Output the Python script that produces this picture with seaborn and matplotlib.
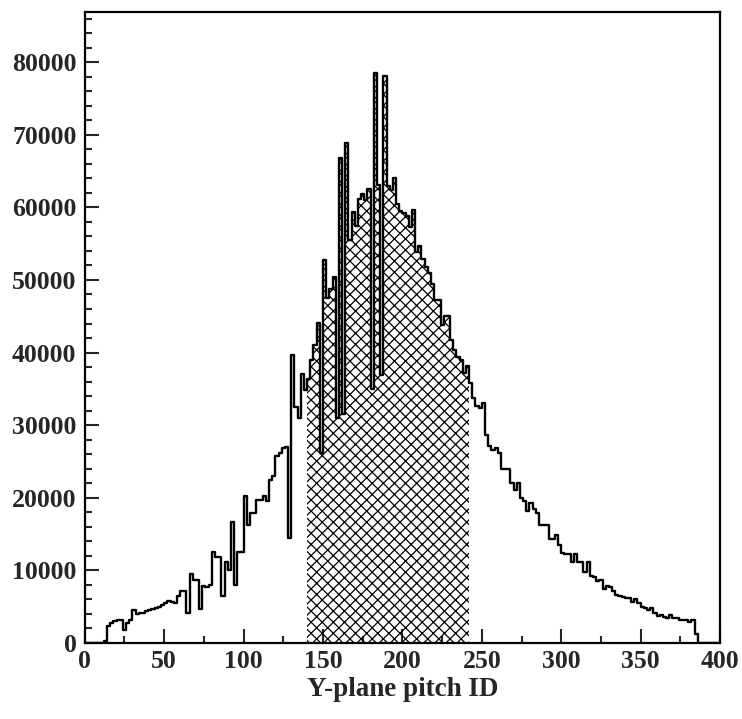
import numpy as np
import pandas as pd
import matplotlib
matplotlib.use("Agg")
import matplotlib.pyplot as plt
from matplotlib.ticker import MultipleLocator
import seaborn as sns

# 200 bins of width 2, pitch ID 0..400
bin_edges = list(range(0, 402, 2))

# counts per bin, in thousands
counts_k = [
    0, 0, 0, 0, 0, 0, 0.3, 2.4, 2.8, 3.0,
    3.1, 3.1, 1.8, 2.7, 3.1, 4.5, 4.0, 4.1, 4.2, 4.4,
    4.5, 4.7, 4.8, 4.9, 5.3, 5.5, 5.8, 5.7, 5.5, 6.5,
    7.2, 7.2, 4.2, 9.5, 8.7, 8.7, 4.7, 7.8, 7.7, 8.0,
    12.5, 11.9, 11.8, 6.5, 11.1, 10.0, 16.6, 8.0, 12.6, 12.6,
    20.2, 16.3, 17.9, 17.9, 19.7, 19.7, 20.2, 19.5, 22.4, 23.0,
    25.7, 26.1, 26.8, 27.0, 14.4, 39.7, 32.5, 31.0, 37.1, 34.9,
    36.3, 39.0, 41.0, 44.1, 26.1, 52.8, 47.5, 48.8, 50.4, 31.0,
    66.8, 31.6, 68.9, 55.5, 59.3, 57.4, 61.2, 61.9, 61.0, 62.5,
    35.0, 78.5, 63.1, 36.9, 78.1, 62.9, 62.4, 64.1, 60.5, 59.5,
    59.2, 58.8, 57.3, 59.6, 53.9, 54.7, 52.9, 51.8, 50.9, 49.5,
    47.2, 47.2, 43.8, 45.0, 45.0, 41.7, 40.4, 39.4, 39.0, 37.2,
    38.1, 35.8, 33.7, 32.6, 32.4, 33.0, 28.6, 27.1, 26.6, 26.8,
    26.2, 24.0, 24.0, 24.0, 22.0, 21.1, 22.0, 20.0, 19.5, 18.2,
    19.3, 18.5, 17.9, 16.3, 16.3, 16.3, 14.3, 14.3, 14.9, 13.5,
    12.4, 12.2, 12.2, 11.2, 12.2, 11.2, 11.1, 9.8, 11.1, 9.2,
    9.1, 8.6, 8.7, 7.5, 7.8, 7.7, 7.2, 6.6, 6.5, 6.4,
    6.2, 6.2, 5.6, 6.0, 5.5, 5.0, 4.8, 4.6, 4.8, 4.1,
    3.7, 3.9, 3.6, 3.5, 3.9, 3.5, 3.4, 3.2, 3.1, 3.2,
    2.9, 3.1, 1.3, 0, 0, 0, 0, 0, 0, 0,
]

# hatched selection window
sel_lo, sel_hi = 140, 242

x_label = "Y-plane pitch ID"

edges = np.array(bin_edges)
df = pd.DataFrame({
    "pitch": (edges[:-1] + edges[1:]) / 2,
    "count": np.array(counts_k) * 1000,
})
df_sel = df[(df["pitch"] > sel_lo) & (df["pitch"] < sel_hi)]
sel_edges = [e for e in bin_edges if sel_lo <= e <= sel_hi]

sns.set_style("ticks")
plt.rcParams["font.family"] = ["Liberation Serif", "DejaVu Serif"]
plt.rcParams["font.weight"] = "bold"
plt.rcParams["hatch.color"] = "black"
plt.rcParams["hatch.linewidth"] = 0.9

fig = plt.figure(figsize=(7.42, 7.19), dpi=100)
ax = fig.add_axes([0.1142, 0.1057, 0.8562, 0.8776])

# hatched part
sns.histplot(data=df_sel, x="pitch", weights="count", bins=sel_edges,
             element="step", fill=True, color="black",
             facecolor="none", edgecolor="black", hatch="xxx",
             linewidth=0, ax=ax)

# full histogram outline
sns.histplot(data=df, x="pitch", weights="count", bins=bin_edges,
             element="step", fill=False, color="black",
             linewidth=1.7, ax=ax)

ax.set_xlim(0, 400)
ax.set_ylim(0, 86900)
ax.set_xlabel(x_label, fontsize=19.5, fontweight="bold", labelpad=3)
ax.set_ylabel("")

ax.xaxis.set_major_locator(MultipleLocator(50))
ax.xaxis.set_minor_locator(MultipleLocator(25))
ax.yaxis.set_major_locator(MultipleLocator(10000))
ax.yaxis.set_minor_locator(MultipleLocator(2000))
ax.tick_params(axis="both", which="major", direction="in", length=10,
               width=1.5, labelsize=18.5, top=False, right=False)
ax.tick_params(axis="both", which="minor", direction="in", length=5,
               width=1.5, top=False, right=False)
ax.tick_params(axis="x", which="major", pad=5)
ax.tick_params(axis="y", which="major", pad=6)
for lab in ax.get_xticklabels() + ax.get_yticklabels():
    lab.set_fontweight("bold")

for sp in ax.spines.values():
    sp.set_visible(True)
    sp.set_linewidth(1.6)
    sp.set_color("black")

fig.savefig("out.png", dpi=100)
